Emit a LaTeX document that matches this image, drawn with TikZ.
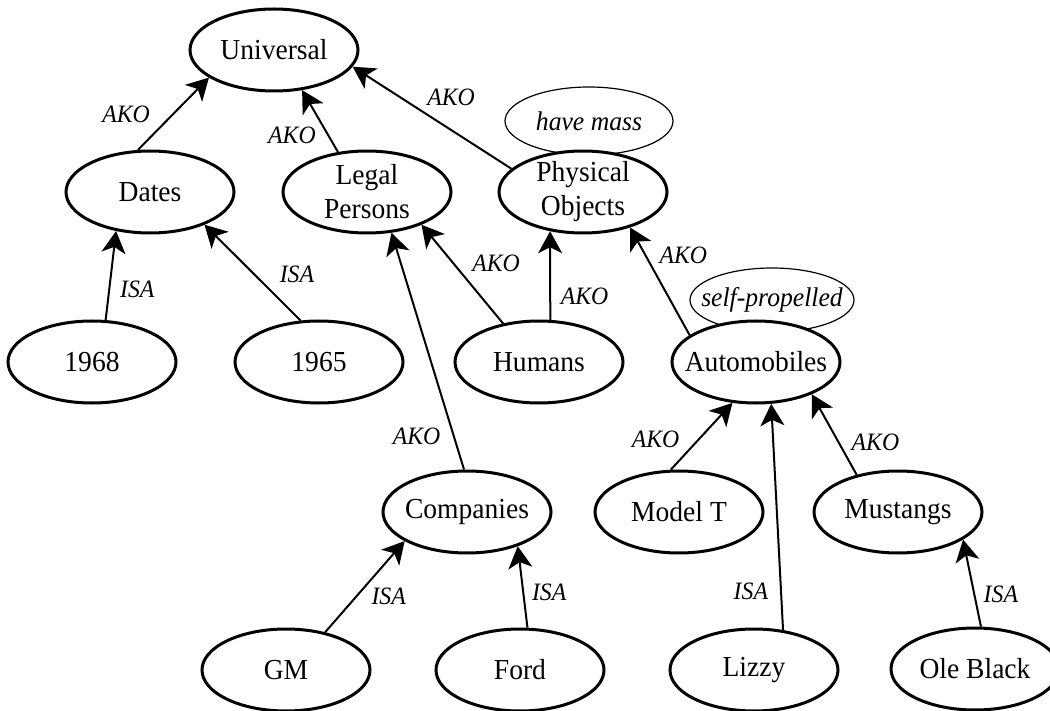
\documentclass[tikz,border=0pt]{standalone}
\usepackage{fontspec}
\setmainfont{Liberation Serif}[FakeStretch=0.95]
\usetikzlibrary{arrows.meta,positioning,shapes.geometric}
\tikzset{
        concept/.style = {draw, ellipse, line width=1.5pt, fill=white,
            minimum width=84pt,
            minimum height=41pt,
            inner xsep=-20pt, inner ysep=-8pt, align=center,
            font=\fontsize{14.5}{17}\selectfont},
        prop/.style = {draw, ellipse, line width=0.6pt,
            minimum width=84pt,
            minimum height=34pt,
            inner sep=-20pt,
            font=\fontsize{13.5}{16}\selectfont\itshape},
        arrow/.style = {draw, line width=1pt, -{Stealth[length=11pt,width=12pt,inset=3pt]}},
        lbl/.style = {inner sep=0pt, font=\fontsize{12.5}{14}\selectfont\itshape},
    }

\begin{document}
\begin{tikzpicture}[x=0.5pt,y=-0.5pt]
        \useasboundingbox (0,0) rectangle (1050,711);

        % properties, behind the concepts
        \node[prop] (mass) at (589,121) {have mass};
        \node[prop, minimum width=82pt, minimum height=32pt] (selfprop) at (772,300) {self-propelled};

        % concepts
        \node[concept] (universal) at (274,50) {Universal};

        \node[concept] (dates) at (150,192) {Dates};
        \node[concept] (legal) at (367,192) {Legal\\Persons};
        \node[concept] (physobj) at (583,192) {Physical\\Objects};

        \node[concept] (y1968) at (92,362) {1968};
        \node[concept] (y1965) at (319,362) {1965};
        \node[concept] (humans) at (539,362) {Humans};
        \node[concept] (autos) at (756,362) {Automobiles};

        \node[concept] (companies) at (467,512) {Companies};
        \node[concept] (modelt) at (679,512) {Model T};
        \node[concept] (mustangs) at (898,512) {Mustangs};

        \node[concept] (gm) at (286,670) {GM};
        \node[concept] (ford) at (520,670) {Ford};
        \node[concept] (lizzy) at (754,670) {Lizzy};
        \node[concept] (oleblack) at (975,669) {Ole Black};

        % links
        \draw[arrow] (dates.106) -- node[lbl, pos=0.49, left=11pt] (l-dates) {AKO} (universal.203);
        \draw[arrow] (legal.126) -- node[lbl, pos=0.27, left=5.8pt] (l-legal) {AKO} (universal.305);
        \draw[arrow] (physobj.162) -- node[lbl, pos=0.38, above=11.7pt] (l-physobj) {AKO} (universal.348);

        \draw[arrow] (y1968.72) -- node[lbl, pos=0.34, right=5pt] (l-1968) {ISA} (dates.229);
        \draw[arrow] (y1965.114) -- node[lbl, pos=0.48, right=12.2pt] (l-1965) {ISA} (dates.329);
        \draw[arrow] (humans.133) -- node[lbl, pos=0.61, right=9pt] (l-humlegal) {AKO} (legal.329);
        \draw[arrow] (humans.75) -- node[lbl, pos=0.27, right=4.8pt] (l-humphys) {AKO} (physobj.230);
        \draw[arrow] (companies.94) -- node[lbl, pos=0.14, left=6.3pt] (l-companies) {AKO} (legal.301);
        \draw[arrow] (autos.158) -- node[lbl, pos=0.74, right=6.5pt] (l-autos) {AKO} (physobj.323);

        \draw[arrow] (modelt.101) -- node[lbl, pos=0.46, left=9.4pt] (l-modelt) {AKO} (autos.240);
        \draw[arrow] (lizzy.54) -- node[lbl, pos=0.17, left=6pt] (l-lizzy) {ISA} (autos.290);
        \draw[arrow] (mustangs.138) -- node[lbl, pos=0.4, right=6pt] (l-mustangs) {AKO} (autos.330);

        \draw[arrow] (gm.44) -- node[lbl, pos=0.39, right=7.2pt] (l-gm) {ISA} (companies.205);
        \draw[arrow] (ford.80) -- node[lbl, pos=0.43, right=3.9pt] (l-ford) {ISA} (companies.326);
        \draw[arrow] (oleblack.82) -- node[lbl, pos=0.37, right=4.2pt] (l-oleblack) {ISA} (mustangs.337);
\end{tikzpicture}
\end{document}
